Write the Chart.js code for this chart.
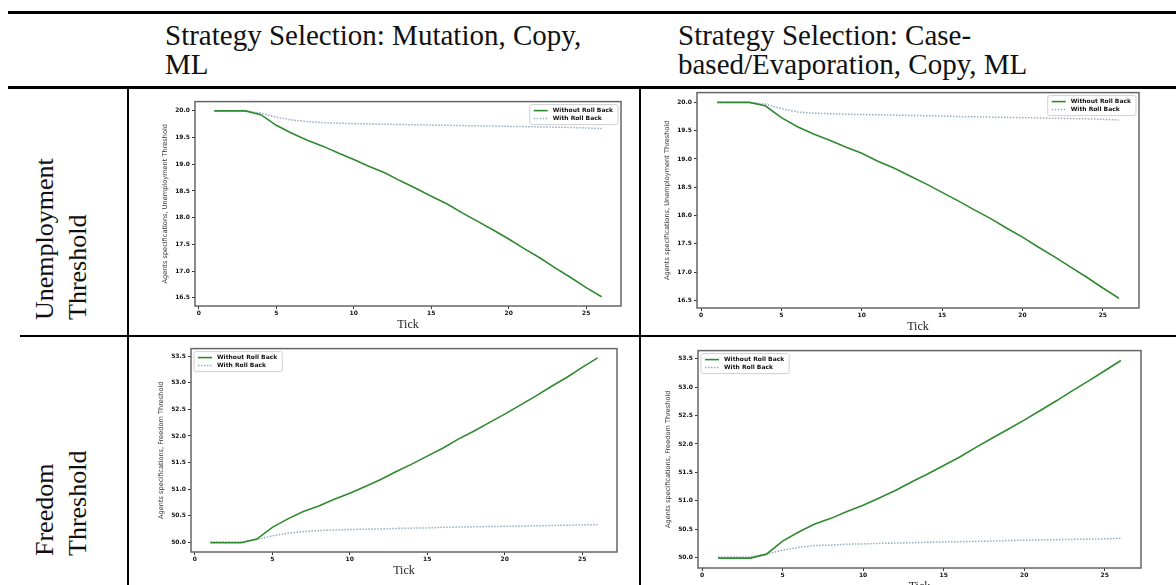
<!DOCTYPE html>
<html lang="en">
<head>
  <meta charset="utf-8">
  <title>Strategy Selection thresholds</title>
  <style>
    body {
      margin: 0;
      width: 1176px;
      height: 585px;
      overflow: hidden;
      background: white;
      position: relative;
      font-family: 'Liberation Serif', 'DejaVu Serif', serif;
    }
    .rule { position: absolute; background: black; }
    .head {
      position: absolute;
      font-size: 29px;
      line-height: 29px;
      color: #111;
      white-space: nowrap;
    }
    .side {
      position: absolute;
      font-size: 26px;
      line-height: 33px;
      color: #111;
      white-space: nowrap;
      transform-origin: left top;
      transform: rotate(-90deg);
    }
    canvas { position: absolute; }
  </style>
</head>
<body>
  <div class="rule" style="left:8px; top:11px; width:1168px; height:3px;"></div>
  <div class="rule" style="left:8px; top:86px; width:1168px; height:3px;"></div>
  <div class="rule" style="left:127px; top:89px; width:1.5px; height:496px;"></div>
  <div class="rule" style="left:639px; top:89px; width:2px; height:496px;"></div>
  <div class="rule" style="left:20px; top:335px; width:1156px; height:2px;"></div>

  <div class="head" style="left:165px; top:21px;">Strategy Selection: Mutation, Copy,<br>ML</div>
  <div class="head" style="left:678px; top:21px;">Strategy Selection: Case-<br>based/Evaporation, Copy, ML</div>

  <div class="side" style="left:28px; top:320px;">Unemployment<br>Threshold</div>
  <div class="side" style="left:28px; top:556px;">Freedom<br>Threshold</div>

  <canvas id="c1" width="465" height="238" style="left:160px; top:96px;"></canvas>
  <canvas id="c2" width="481" height="249" style="left:662px; top:87px;"></canvas>
  <canvas id="c3" width="465" height="237" style="left:156px; top:343px;"></canvas>
  <canvas id="c4" width="482" height="251" style="left:663px; top:345px;"></canvas>

  <script src="https://cdn.jsdelivr.net/npm/chart.js@4.4.1/dist/chart.umd.min.js"></script>
  <script>
    // dados
    var ticksX = [1, 2, 3, 4, 5, 6, 7, 8, 9, 10, 11, 12, 13, 14, 15, 16, 17, 18, 19, 20, 21, 22, 23, 24, 25, 26];
    var xTickLabels = [0, 5, 10, 15, 20, 25];
    var unempTicks = [16.5, 17.0, 17.5, 18.0, 18.5, 19.0, 19.5, 20.0];
    var freeTicks = [50.0, 50.5, 51.0, 51.5, 52.0, 52.5, 53.0, 53.5];

    // Mutation, Copy, ML
    var unempNoRollA = [20.0, 20.0, 20.0, 19.93, 19.73, 19.58, 19.45, 19.34, 19.21, 19.09, 18.96, 18.84, 18.69,
                        18.55, 18.40, 18.26, 18.09, 17.93, 17.77, 17.60, 17.42, 17.25, 17.06, 16.88, 16.69, 16.52];
    var unempRollA = [20.0, 20.0, 20.0, 19.96, 19.88, 19.83, 19.80, 19.78, 19.77, 19.76, 19.755, 19.75, 19.745,
                      19.74, 19.735, 19.73, 19.725, 19.72, 19.715, 19.71, 19.705, 19.70, 19.695, 19.69, 19.68, 19.67];
    var freeNoRollA = [49.99, 49.99, 49.99, 50.06, 50.28, 50.44, 50.58, 50.68, 50.81, 50.92, 51.05, 51.18, 51.33,
                       51.47, 51.62, 51.77, 51.94, 52.09, 52.25, 52.41, 52.58, 52.75, 52.93, 53.10, 53.29, 53.47];
    var freeRollA = [50.01, 50.01, 50.01, 50.05, 50.12, 50.17, 50.20, 50.22, 50.23, 50.24, 50.245, 50.25, 50.26,
                     50.265, 50.27, 50.28, 50.285, 50.29, 50.295, 50.30, 50.305, 50.31, 50.315, 50.32, 50.325, 50.33];

    // Case-based/Evaporation, Copy, ML
    var unempNoRollB = [20.0, 20.0, 20.0, 19.94, 19.73, 19.57, 19.44, 19.33, 19.21, 19.10, 18.96, 18.84, 18.70,
                        18.56, 18.41, 18.26, 18.10, 17.95, 17.78, 17.62, 17.44, 17.27, 17.09, 16.91, 16.72, 16.54];
    var unempRollB = [20.0, 20.0, 20.0, 19.97, 19.89, 19.83, 19.81, 19.80, 19.79, 19.785, 19.78, 19.775, 19.77,
                      19.765, 19.76, 19.75, 19.745, 19.74, 19.735, 19.73, 19.725, 19.72, 19.715, 19.71, 19.70, 19.69];
    var freeNoRollB = [49.99, 49.99, 49.99, 50.06, 50.29, 50.45, 50.59, 50.69, 50.81, 50.92, 51.05, 51.18, 51.33,
                       51.47, 51.62, 51.77, 51.94, 52.10, 52.26, 52.42, 52.59, 52.76, 52.94, 53.11, 53.29, 53.47];
    var freeRollB = [50.01, 50.01, 50.01, 50.06, 50.13, 50.18, 50.21, 50.22, 50.235, 50.24, 50.25, 50.255, 50.26,
                     50.27, 50.275, 50.28, 50.285, 50.29, 50.30, 50.305, 50.31, 50.315, 50.32, 50.325, 50.33, 50.34];

    var labelNoRoll = 'Without Roll Back';
    var labelRoll = 'With Roll Back';

    // moldura estilo matplotlib
    var framePlugin = {
      id: 'frame',
      afterDraw: function (chart) {
        var a = chart.chartArea, ctx = chart.ctx;
        ctx.save();
        ctx.strokeStyle = '#666';
        ctx.lineWidth = 1.5;
        ctx.strokeRect(a.left, a.top, a.right - a.left, a.bottom - a.top);
        ctx.restore();
      }
    };

    // legenda dentro da area do grafico
    var boxLegend = {
      id: 'boxLegend',
      afterDraw: function (chart, args, opts) {
        var a = chart.chartArea, ctx = chart.ctx;
        var sets = chart.data.datasets;
        ctx.save();
        ctx.font = 'bold 6px "DejaVu Sans"';
        var textW = 0;
        sets.forEach(function (d) { textW = Math.max(textW, ctx.measureText(d.label).width); });
        var w = textW + 28, h = 20;
        var x = opts.side === 'left' ? a.left + 3 : a.right - 3 - w;
        var y = a.top + 3;
        ctx.fillStyle = 'rgba(255,255,255,0.85)';
        ctx.strokeStyle = '#d0d0d0';
        ctx.lineWidth = 1;
        ctx.beginPath();
        ctx.roundRect(x, y, w, h, 2);
        ctx.fill();
        ctx.stroke();
        sets.forEach(function (d, i) {
          var ly = y + 6 + i * 8;
          ctx.strokeStyle = d.borderColor;
          ctx.lineWidth = d.borderWidth;
          ctx.setLineDash(d.borderDash || []);
          ctx.beginPath();
          ctx.moveTo(x + 4, ly);
          ctx.lineTo(x + 18, ly);
          ctx.stroke();
          ctx.setLineDash([]);
          ctx.fillStyle = '#111';
          ctx.textBaseline = 'middle';
          ctx.fillText(d.label, x + 23, ly);
        });
        ctx.restore();
      }
    };

    function makeChart(id, noRoll, roll, yTicks, yTitle, side) {
      var all = noRoll.concat(roll);
      var lo = Math.min.apply(null, all), hi = Math.max.apply(null, all);
      var padY = (hi - lo) * 0.05;
      var padX = (ticksX[ticksX.length - 1] - ticksX[0]) * 0.05;
      var tickFont = { family: 'DejaVu Sans', size: 6, weight: 'bold' };

      return new Chart(document.getElementById(id).getContext('2d'), {
        type: 'line',
        data: {
          datasets: [{
            label: labelNoRoll,
            data: ticksX.map(function (t, i) { return { x: t, y: noRoll[i] }; }),
            borderColor: '#2f8a2f',
            borderWidth: 1.6,
            pointRadius: 0,
            tension: 0
          }, {
            label: labelRoll,
            data: ticksX.map(function (t, i) { return { x: t, y: roll[i] }; }),
            borderColor: '#94abc6',
            borderWidth: 1.5,
            borderDash: [1.5, 1.5],
            pointRadius: 0,
            tension: 0
          }]
        },
        options: {
          responsive: false,
          animation: false,
          layout: { padding: { left: 0, top: 4, right: 4, bottom: 0 } },
          plugins: {
            legend: { display: false },
            tooltip: { enabled: false },
            boxLegend: { side: side }
          },
          scales: {
            x: {
              type: 'linear',
              min: ticksX[0] - padX,
              max: ticksX[ticksX.length - 1] + padX,
              afterBuildTicks: function (axis) {
                axis.ticks = xTickLabels.map(function (v) { return { value: v }; });
              },
              afterFit: function (axis) { axis.height = 28; },
              grid: { display: true, drawOnChartArea: false, drawTicks: true, tickLength: 3, color: '#333' },
              border: { display: false },
              ticks: { font: tickFont, color: '#111', padding: 1, maxRotation: 0 },
              title: {
                display: true,
                text: 'Tick',
                font: { family: 'Liberation Serif', size: 12 },
                color: '#222',
                padding: { top: 0, bottom: 2 }
              }
            },
            y: {
              min: lo - padY,
              max: hi + padY,
              afterBuildTicks: function (axis) {
                axis.ticks = yTicks.map(function (v) { return { value: v }; });
              },
              afterFit: function (axis) { axis.width = 35; },
              grid: { display: true, drawOnChartArea: false, drawTicks: true, tickLength: 3, color: '#333' },
              border: { display: false },
              ticks: {
                font: tickFont,
                color: '#111',
                padding: 2,
                callback: function (v) { return v.toFixed(1); }
              },
              title: {
                display: true,
                text: yTitle,
                font: { family: 'DejaVu Sans', size: 6.6 },
                color: '#333',
                padding: { top: 1, bottom: 0 }
              }
            }
          }
        },
        plugins: [framePlugin, boxLegend]
      });
    }

    makeChart('c1', unempNoRollA, unempRollA, unempTicks, 'Agents specifications, Unemployment Threshold', 'right');
    makeChart('c2', unempNoRollB, unempRollB, unempTicks, 'Agents specifications, Unemployment Threshold', 'right');
    makeChart('c3', freeNoRollA, freeRollA, freeTicks, 'Agents specifications, Freedom Threshold', 'left');
    makeChart('c4', freeNoRollB, freeRollB, freeTicks, 'Agents specifications, Freedom Threshold', 'left');
  </script>
</body>
</html>
